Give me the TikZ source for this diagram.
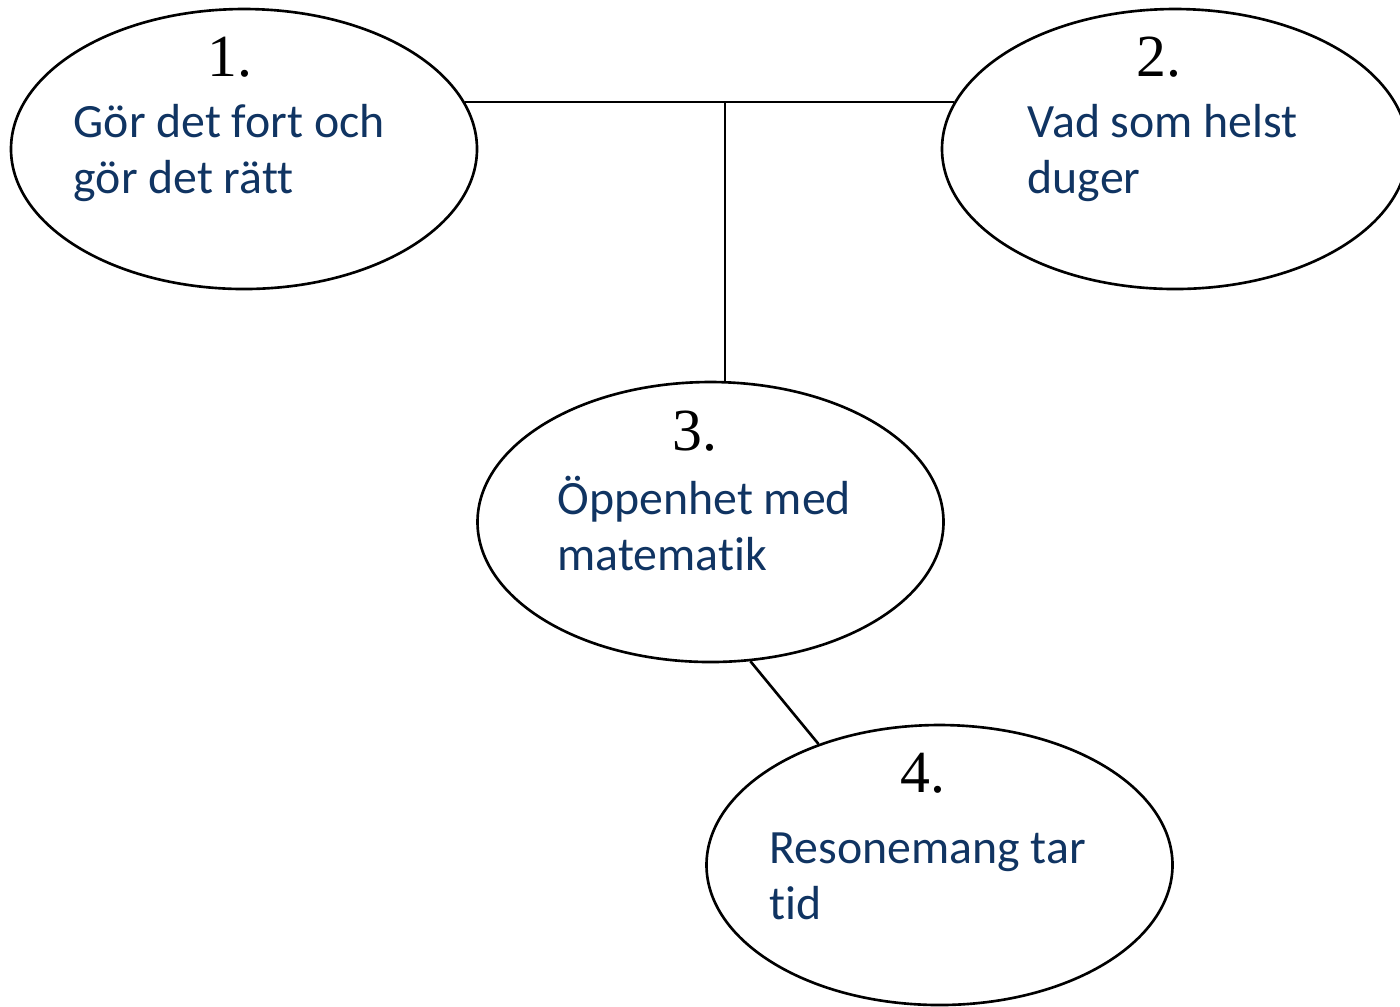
\documentclass[tikz,border=0pt]{standalone}
\usepackage{fontspec}
\setmainfont{Liberation Serif}
\newfontfamily\txtfont[Ligatures={NoCommon}]{Carlito}
\usetikzlibrary{shapes.geometric}
\definecolor{txtblue}{RGB}{16,52,98}
\tikzset{
	bubble/.style={draw, ellipse, line width=0.75pt, minimum width=4.66cm, minimum height=2.8cm, inner sep=0pt},
	num/.style={anchor=base, font=\fontsize{17}{20}\selectfont},
	txt/.style={anchor=base west, align=left, inner sep=0pt, text=txtblue, font=\txtfont\fontsize{13.6}{15.9}\selectfont},
	link/.style={line width=0.75pt}
}

\begin{document}
\begin{tikzpicture}
		\useasboundingbox (0,0) rectangle (14,-10.06);
		\draw (2.44,-1.49) node(e1) [bubble]{};
		\node (n1)[num] at (2.30,-0.76){1.};
		\node (t1)[txt] at (0.73,-1.93){Gör det fort och\\gör det rätt};
		%
		\draw (11.75,-1.49) node(e2) [bubble]{};
		\node (n2)[num] at (11.59,-0.76){2.};
		\node (t2)[txt] at (10.27,-1.93){Vad som helst\\duger};
		%
		\draw (7.105,-5.22) node(e3) [bubble]{};
		\node (n3)[num] at (6.95,-4.50){3.};
		\node (t3)[txt] at (5.57,-5.70){Öppenhet med\\matematik};
		%
		\draw (9.395,-8.65) node(e4) [bubble]{};
		\node (n4)[num] at (9.23,-7.92){4.};
		\node (t4)[txt] at (7.69,-9.19){Resonemang tar\\tid};
		%
		\coordinate (j) at (7.25,-1.01);
		\draw [link] (e1.12) -- (e2.168);
		\draw [link] (j) -- (j |- e3.north);
		\draw [link] (e3.-74) -- (e4.135);
	\end{tikzpicture}
\end{document}
